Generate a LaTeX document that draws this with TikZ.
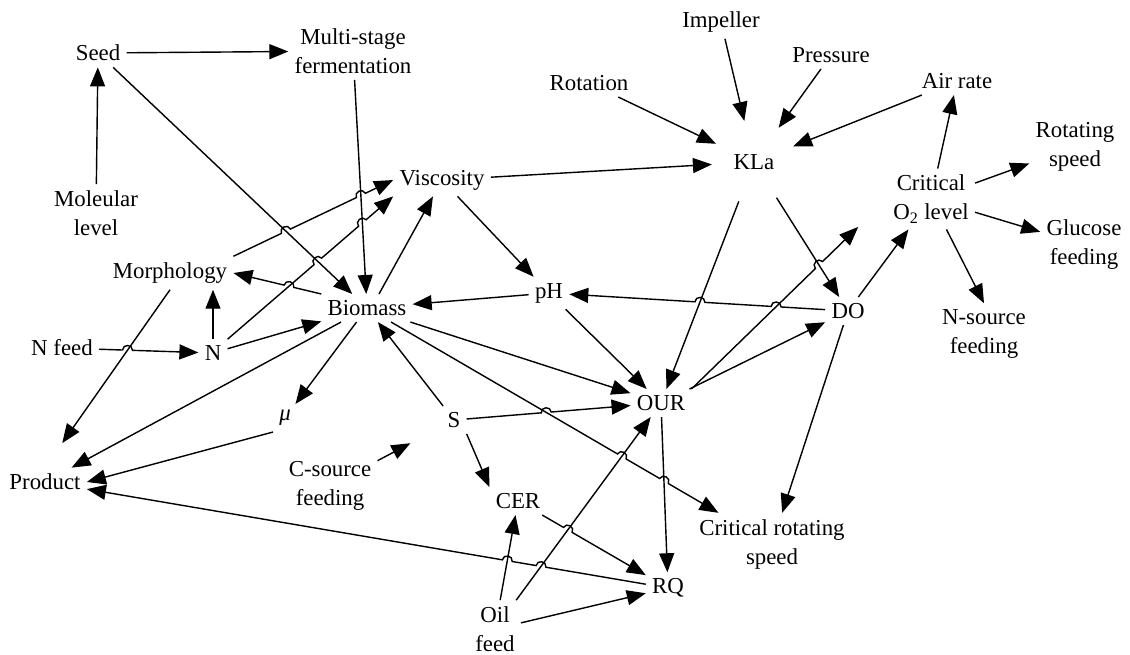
\documentclass[tikz,border=0pt]{standalone}
\usepackage{fontspec}
\setmainfont{Liberation Serif}
\usetikzlibrary{arrows.meta, calc, intersections}

\newcommand{\hopgap}{0.1cm}

\begin{document}
\begin{tikzpicture}[
		x=0.02cm, y=-0.02cm,
		>={Triangle[length=0.38cm, width=0.3cm]},
		font=\fontsize{13}{16.5}\selectfont,
		% Estilos
		var/.style={align=center, inner sep=0.12cm},
		link/.style={draw, line width=0.8pt, ->},
		hopl/.style={bend left=90, looseness=1.6},
		hopr/.style={bend right=90, looseness=1.6},
		short/.style={shorten >=#1}
		]
		
		\useasboundingbox (0,0) rectangle (1130,654);
		
		% --- NODES ---
		
		% top row
		\node [var] (seed) at (98,53) {Seed};
		\node [var] (multi) at (353,51) {Multi-stage\\fermentation};
		\node [var] (molec) at (96,213) {Moleular\\level};
		\node [var] (impeller) at (721,22) {Impeller};
		\node [var] (pressure) at (831,55) {Pressure};
		\node [var] (rotation) at (589,83) {Rotation};
		\node [var] (airrate) at (957,81) {Air rate};
		\node [var, circle, inner sep=0.3cm] (kla) at (754,162) {KLa};
		\node [var] (visc) at (442,180) {Viscosity};
		\node [var] (rotspeed) at (1075,147) {Rotating\\speed};
		\node [var] (crito2) at (931,199) {Critical\\O\textsubscript{2} level};
		\node [var] (glucose) at (1084,245) {Glucose\\feeding};
		
		% middle
		\node [var] (morph) at (170,273) {Morphology};
		\node [var] (nsource) at (984,334) {N-source\\feeding};
		\node [var] (biomass) at (367,308) {Biomass};
		\node [var] (ph) at (549,293) {pH};
		\node [var] (do) at (848,311) {DO};
		\node [var] (nfeed) at (62,348) {N feed};
		\node [var] (n) at (213,353) {N};
		\node [var] (our) at (661,403) {OUR};
		\node [var] (mu) at (285,418) {\itshape μ};
		\node [var] (s) at (454,420) {S};
		
		% bottom
		\node [var] (product) at (45,482) {Product};
		\node [var] (csource) at (330,486) {C-source\\feeding};
		\node [var] (cer) at (518,501) {CER};
		\node [var] (critrot) at (772,544) {Critical rotating\\speed};
		\node [var] (rq) at (668,588) {RQ};
		\node [var] (oil) at (495,629) {Oil\\feed};
		
		% --- STRAIGHT LINKS ---
		\draw [link] (seed) -- (multi);
		\draw [link] (molec) -- (seed);
		\draw [link, name path=sb] (seed) -- (biomass);
		\draw [link, name path=mb] (multi) -- (biomass);
		\draw [link] (biomass.north) ++(12,0) -- (visc);
		\draw [link] (n.north) -- (n.north |- morph.south);
		\draw [link, short=0.6cm, name path=mp] (morph.south) -- (product.north);
		\draw [link] (n) -- (biomass);
		\draw [link] (biomass) -- (product);
		\draw [link] (biomass) -- (mu);
		\draw [link] (mu.south west) -- (product.east);
		\draw [link] (s) -- (biomass);
		\draw [link, short=0.7cm] (csource) -- (s);
		\draw [link] (s.south east) -- (cer.north west);
		\draw [link] (visc) -- (kla);
		\draw [link] (rotation) -- (kla);
		\draw [link] (impeller) -- (kla);
		\draw [link] (pressure) -- (kla);
		\draw [link] (airrate) -- (kla);
		\draw [link] (visc) -- (ph);
		\draw [link] (ph) -- (biomass);
		\draw [link] (biomass) -- (our);
		\draw [link] (ph) -- (our);
		\draw [link, name path=ko] (kla) -- (our);
		\draw [link, name path=kd] (kla) -- (do);
		\draw [link] (our) -- (do);
		\draw [link] (do) -- (crito2);
		\draw [link] (do) -- (critrot);
		\draw [link] (crito2) -- (airrate);
		\draw [link] (crito2) -- (rotspeed);
		\draw [link] (crito2) -- (glucose);
		\draw [link] (crito2) -- (nsource.north);
		\draw [link, name path=or] (our) -- (rq);
		\draw [link, name path=ocer] (oil) -- (cer);
		\draw [link, name path=oo] (oil) -- (our);
		\draw [link] (oil) -- (rq);
		
		% --- CROSSING POINTS ---
		\path [name path=nn] (nfeed) -- (n);
		\path [name path=bm] (biomass.north west) -- (morph.east);
		\path [name path=mv] (morph.north east) -- (visc.west);
		\path [name path=nv] (n.north east) -- (visc.south west);
		\path [name path=dp] (do) -- (ph);
		\path [name path=oc] (our.north east) -- (crito2.west);
		\path [name path=so] (s) -- (our);
		\path [name path=bc] (biomass) -- (critrot);
		\path [name path=cr] (cer) -- (rq);
		\path [name path=rp] (rq) -- (product);
		
		\path [name intersections={of=nn and mp, by=h1}];
		\path [name intersections={of=bm and nv, by=h2}];
		\path [name intersections={of=mv and sb, by=h3a}];
		\path [name intersections={of=mv and mb, by=h3b}];
		\path [name intersections={of=nv and sb, by=h4a}];
		\path [name intersections={of=nv and mb, by=h4b}];
		\path [name intersections={of=dp and oc, by=h5a}];
		\path [name intersections={of=dp and ko, by=h5b}];
		\path [name intersections={of=so and bc, by=h6}];
		\path [name intersections={of=bc and oo, by=h7a}];
		\path [name intersections={of=bc and or, by=h7b}];
		\path [name intersections={of=cr and oo, by=h8}];
		\path [name intersections={of=rp and oo, by=h9a}];
		\path [name intersections={of=rp and ocer, by=h9b}];
		\path [name intersections={of=oc and kd, by=h10}];
		
		% --- LINKS WITH HOPS ---
		\draw [link] (nfeed) -- ($(h1)!\hopgap!(nfeed)$) to[hopl] ($(h1)!\hopgap!(n)$) -- (n);
		\draw [link] (biomass.north west) -- ($(h2)!\hopgap!(biomass.north west)$) to[hopr] ($(h2)!\hopgap!(morph.east)$) -- (morph.east);
		\draw [link] (morph.north east) -- ($(h3a)!\hopgap!(morph.north east)$) to[hopl] ($(h3a)!\hopgap!(visc.west)$)
			-- ($(h3b)!\hopgap!(morph.north east)$) to[hopl] ($(h3b)!\hopgap!(visc.west)$) -- (visc.west);
		\draw [link] (n.north east) -- ($(h4a)!\hopgap!(n.north east)$) to[hopl] ($(h4a)!\hopgap!(visc.south west)$)
			-- ($(h4b)!\hopgap!(n.north east)$) to[hopl] ($(h4b)!\hopgap!(visc.south west)$) -- (visc.south west);
		\draw [link] (do) -- ($(h5a)!\hopgap!(do)$) to[hopr] ($(h5a)!\hopgap!(ph)$)
			-- ($(h5b)!\hopgap!(do)$) to[hopr] ($(h5b)!\hopgap!(ph)$) -- (ph);
		\draw [link] (s) -- ($(h6)!\hopgap!(s)$) to[hopl] ($(h6)!\hopgap!(our)$) -- (our);
		\draw [link] (biomass) -- ($(h7a)!\hopgap!(biomass)$) to[hopl] ($(h7a)!\hopgap!(critrot)$)
			-- ($(h7b)!\hopgap!(biomass)$) to[hopl] ($(h7b)!\hopgap!(critrot)$) -- (critrot);
		\draw [link] (cer) -- ($(h8)!\hopgap!(cer)$) to[hopl] ($(h8)!\hopgap!(rq)$) -- (rq);
		\draw [link] (rq) -- ($(h9a)!\hopgap!(rq)$) to[hopr] ($(h9a)!\hopgap!(product)$)
			-- ($(h9b)!\hopgap!(rq)$) to[hopr] ($(h9b)!\hopgap!(product)$) -- (product);
		\draw [link, short=0.8cm] (our.north east) -- ($(h10)!\hopgap!(our.north east)$) to[hopl] ($(h10)!\hopgap!(crito2.west)$) -- (crito2.west);
		
	\end{tikzpicture}
\end{document}
